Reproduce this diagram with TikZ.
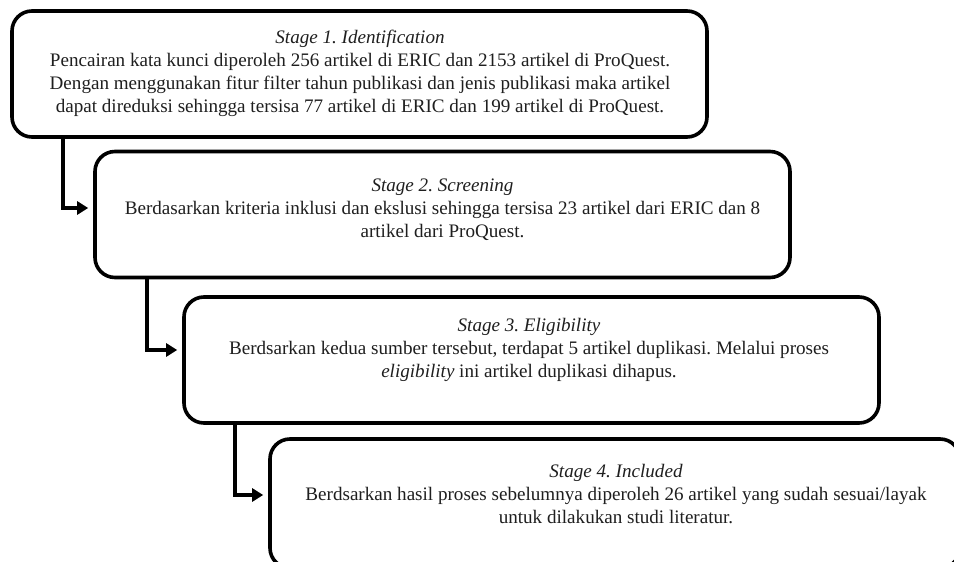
\documentclass[tikz,border=0pt]{standalone}
\usepackage{fontspec}
\setmainfont{Liberation Serif}
\usetikzlibrary{arrows.meta}
\frenchspacing
\begin{document}
\begin{tikzpicture}[x=1pt,y=-1pt,
  stagebox/.style={draw=black,line width=3.6pt,rounded corners=20pt,minimum width=695pt,minimum height=126pt,inner sep=0pt,fill=white},
  stagetext/.style={align=center,font=\fontsize{19.1}{22.9}\selectfont,inner sep=0pt,text=black!88},
  arr/.style={line width=3.6pt,-{Triangle[length=11pt,width=13pt]},shorten >=5pt}]
\useasboundingbox (0,0) rectangle (954,562);
\clip (0,0) rectangle (954,562);
\fill[white] (0,0) rectangle (954,562);
\node[stagebox] (b1) at (359.5,74) {};
\node[stagebox] (b2) at (442.5,214.5) {};
\node[stagebox] (b3) at (531.5,360) {};
\node[stagebox,minimum width=690pt,minimum height=129pt] (b4) at (615,503.5) {};
\node[stagetext] (t1) at (360,73) {\textit{Stage 1. Identification}\\
Pencairan kata kunci diperoleh 256 artikel di ERIC dan 2153 artikel di ProQuest.\\
Dengan menggunakan fitur filter tahun publikasi dan jenis publikasi maka artikel\\
dapat direduksi sehingga tersisa 77 artikel di ERIC dan 199 artikel di ProQuest.};
\node[stagetext] (t2) at (442.5,210) {\textit{Stage 2. Screening}\\
Berdasarkan kriteria inklusi dan ekslusi sehingga tersisa 23 artikel dari ERIC dan 8\\
artikel dari ProQuest.};
\node[stagetext] (t3) at (529,350) {\textit{Stage 3. Eligibility}\\
Berdsarkan kedua sumber tersebut, terdapat 5 artikel duplikasi. Melalui proses\\
\textit{eligibility} ini artikel duplikasi dihapus.};
\node[stagetext] (t4) at (616,494) {\textit{Stage 4. Included}\\
Berdsarkan hasil proses sebelumnya diperoleh 26 artikel yang sudah sesuai/layak\\
untuk dilakukan studi literatur.};
\coordinate (a1) at (63,208);
\coordinate (a2) at (147,350);
\coordinate (a3) at (235,495);
\draw[arr] (b1.south -| a1) |- (b2.west |- a1);
\draw[arr] (b2.south -| a2) |- (b3.west |- a2);
\draw[arr] (b3.south -| a3) |- (b4.west |- a3);
\end{tikzpicture}
\end{document}
